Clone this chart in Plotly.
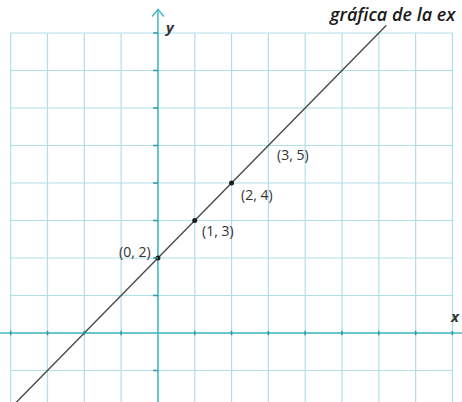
import plotly.graph_objects as go

# Line y = x + 2 and the labelled points on it
point_x = [0, 1, 2, 3]
point_y = [2, 3, 4, 5]
point_labels = ["(0, 2)", "(1, 3)", "(2, 4)", "(3, 5)"]
line_x = [-4.3, 6.2]
slope, intercept = 1, 2

# Grid extent (units)
grid_x = list(range(-4, 9))
grid_y = list(range(-2, 9))

X_RANGE = [-4.29, 8.26]
Y_RANGE = [-1.84, 8.88]

GRID = "#b0e0e7"
AXIS = "#45b8c4"
TICK = "#2a98a6"
INK = "#333333"

fig = go.Figure()
shapes = []

for gx in grid_x:
    shapes.append(dict(type="line", x0=gx, x1=gx, y0=Y_RANGE[0], y1=grid_y[-1],
                       line=dict(color=GRID, width=1.2), layer="below"))
for gy in grid_y:
    shapes.append(dict(type="line", x0=grid_x[0], x1=grid_x[-1], y0=gy, y1=gy,
                       line=dict(color=GRID, width=1.2), layer="below"))

# axes
shapes.append(dict(type="line", x0=X_RANGE[0], x1=X_RANGE[1], y0=0, y1=0,
                   line=dict(color=AXIS, width=1.5), layer="below"))
shapes.append(dict(type="line", x0=0, x1=0, y0=Y_RANGE[0], y1=8.62,
                   line=dict(color=AXIS, width=1.5), layer="below"))
# arrow head on y axis
shapes.append(dict(type="path", path="M -0.16,8.44 L 0,8.63 L 0.16,8.44",
                   line=dict(color=AXIS, width=1.5)))
# tick marks
for gy in grid_y:
    if gy != 0:
        shapes.append(dict(type="line", x0=-0.13, x1=0, y0=gy, y1=gy,
                           line=dict(color=TICK, width=1.5)))
for gx in grid_x:
    if gx != 0:
        shapes.append(dict(type="line", x0=gx, x1=gx, y0=-0.06, y1=0.06,
                           line=dict(color=TICK, width=1.5)))

line_y = [slope * v + intercept for v in line_x]
fig.add_trace(go.Scatter(x=line_x, y=line_y, mode="lines",
                         line=dict(color="#4a4a4a", width=1.4), hoverinfo="skip"))
fig.add_trace(go.Scatter(x=point_x[:3], y=point_y[:3], mode="markers",
                         marker=dict(color="#1e1e1e", size=5), hoverinfo="skip"))

label_pos = [("right", "middle", -0.14, 0.17), ("left", "top", 0.13, 0.05),
             ("left", "top", 0.2, 0.0), ("left", "top", 0.18, 0.08)]
annotations = []
for (px, py, txt, (xa, ya, dx, dy)) in zip(point_x, point_y, point_labels, label_pos):
    annotations.append(dict(x=px + dx, y=py + dy, text=txt, showarrow=False,
                            xanchor=xa, yanchor=ya,
                            font=dict(family="Open Sans", size=14, color=INK)))

annotations.append(dict(x=0.12, y=8.15, text="<b><i>y</i></b>", showarrow=False,
                        xanchor="left", yanchor="middle",
                        font=dict(family="Open Sans", size=15, color=INK)))
annotations.append(dict(x=8.26, y=0.45, text="<b><i>x</i></b>", showarrow=False,
                        xanchor="right", yanchor="middle",
                        font=dict(family="Open Sans", size=15, color=INK)))
annotations.append(dict(x=0.708, y=1.0, xref="paper", yref="paper",
                        text="<i>gráfica de la ex</i>", showarrow=False,
                        xanchor="left", yanchor="top",
                        font=dict(family="Open Sans", size=18, color="#1a1a1a", weight=600)))

fig.update_layout(
    width=462, height=402,
    margin=dict(l=0, r=0, t=0, b=0),
    paper_bgcolor="white", plot_bgcolor="white",
    showlegend=False,
    shapes=shapes,
    annotations=annotations,
    xaxis=dict(range=X_RANGE, visible=False, fixedrange=True),
    yaxis=dict(range=Y_RANGE, visible=False, fixedrange=True),
)

fig.write_html("out.html")
